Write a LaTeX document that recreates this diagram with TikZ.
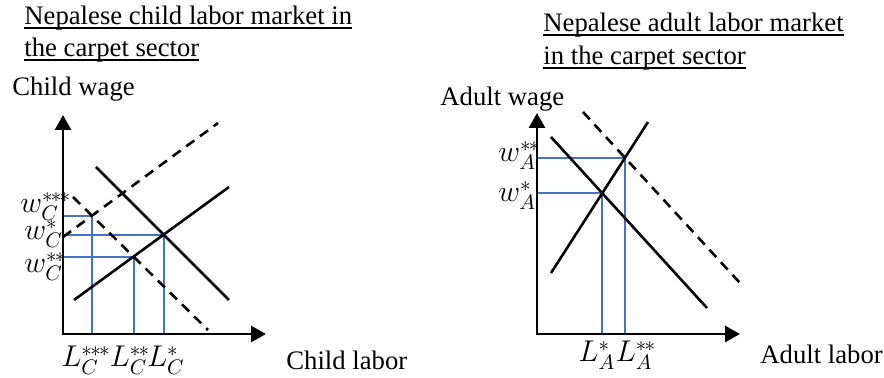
\RequirePackage{fix-cm}
\documentclass[tikz,border=0pt]{standalone}
\usepackage{fontspec}
\setmainfont{Liberation Serif}
\usepackage{tikz}
\usetikzlibrary{arrows.meta}
\definecolor{guideclr}{RGB}{68,114,196}
\newcommand{\undertext}[1]{\setbox0\hbox{#1}\rlap{\rule[-2pt]{\wd0}{0.9pt}}\box0}
\newcommand{\twostar}{*\mkern-1.5mu*}
\newcommand{\threestar}{*\mkern-1.5mu*\mkern-1.5mu*}
\tikzset{
  axis/.style={line width=1.4pt,{Triangle[length=7.5pt,width=8pt]}-{Triangle[length=7.5pt,width=8pt]}},
  curve/.style={line width=1.3pt},
  shifted/.style={curve,dash pattern=on 5pt off 3.5pt},
  guide/.style={guideclr,line width=1pt},
  lbl/.style={inner sep=0pt,anchor=base west},
  wlbl/.style={lbl,font=\fontsize{15}{18}\selectfont},
  tick/.style={inner sep=0pt,anchor=base,font=\fontsize{15}{18}\selectfont},
}

\begin{document}
\begin{tikzpicture}[x=0.5pt,y=-0.5pt,font=\fontsize{13.35}{15}\selectfont]
\useasboundingbox (0,0) rectangle (884,378);

% child labor market
\node[lbl] (ttlC1) at (24,25) {\undertext{Nepalese child labor market in}};
\node[lbl] (ttlC2) at (24,57) {\undertext{the carpet sector}};
\node[lbl] (yC) at (12,96) {Child wage};
\node[lbl] (xC) at (286,370) {Child labor};

\coordinate (oC) at (63,334);
\coordinate (yCtip) at (63,115);
\coordinate (xCtip) at (266,334);
\coordinate (sC1) at (74,300);
\coordinate (sC2) at (229,187);
\coordinate (dC1) at (96,167);
\coordinate (dC2) at (229,300);
\coordinate (ssC1) at (63,237);
\coordinate (ssC2) at (218,123);
\coordinate (ddC1) at (73,197);
\coordinate (ddC2) at (208,330);
\coordinate (eC1) at (intersection of sC1--sC2 and dC1--dC2);
\coordinate (eC2) at (intersection of sC1--sC2 and ddC1--ddC2);
\coordinate (eC3) at (intersection of ssC1--ssC2 and ddC1--ddC2);

\draw[guide] (oC |- eC1) -- (eC1) -- (eC1 |- oC);
\draw[guide] (oC |- eC2) -- (eC2) -- (eC2 |- oC);
\draw[guide] (oC |- eC3) -- (eC3) -- (eC3 |- oC);

\draw[curve] (sC1) -- (sC2);
\draw[curve] (dC1) -- (dC2);
\draw[shifted] (ssC1) -- (ssC2);
\draw[shifted] (ddC1) -- (ddC2);
\draw[axis] (yCtip) -- (oC) -- (xCtip);

\node[wlbl] (wC3) at (20,213) {$w_C^{\threestar}$};
\node[wlbl] (wC1) at (24,240) {$w_C^{*}$};
\node[wlbl] (wC2) at (24,273) {$w_C^{\twostar}$};
\node[tick] (LC3) at (86,367) {$L_C^{\threestar}$};
\node[tick] (LC2) at (130,367) {$L_C^{\twostar}$};
\node[tick] (LC1) at (166,367) {$L_C^{*}$};

% adult labor market
\node[lbl] (ttlA1) at (543,32) {\undertext{Nepalese adult labor market}};
\node[lbl] (ttlA2) at (543,65) {\undertext{in the carpet sector}};
\node[lbl] (yA) at (440,106) {Adult wage};
\node[lbl] (xA) at (760,364) {Adult labor};

\coordinate (oA) at (537,334);
\coordinate (yAtip) at (537,113);
\coordinate (xAtip) at (740,334);
\coordinate (sA1) at (551,273);
\coordinate (sA2) at (648,122);
\coordinate (dA1) at (551,137);
\coordinate (dA2) at (707,308);
\coordinate (ddA1) at (583,112);
\coordinate (ddA2) at (740,283);
\coordinate (eA1) at (intersection of sA1--sA2 and dA1--dA2);
\coordinate (eA2) at (intersection of sA1--sA2 and ddA1--ddA2);

\draw[guide] (oA |- eA1) -- (eA1) -- (eA1 |- oA);
\draw[guide] (oA |- eA2) -- (eA2) -- (eA2 |- oA);

\draw[curve] (sA1) -- (sA2);
\draw[curve] (dA1) -- (dA2);
\draw[shifted] (ddA1) -- (ddA2);
\draw[axis] (yAtip) -- (oA) -- (xAtip);

\node[wlbl] (wA2) at (498,162) {$w_A^{\twostar}$};
\node[wlbl] (wA1) at (498,202) {$w_A^{*}$};
\node[tick] (LA1) at (597,362) {$L_A^{*}$};
\node[tick] (LA2) at (636,362) {$L_A^{\twostar}$};
\end{tikzpicture}
\end{document}
